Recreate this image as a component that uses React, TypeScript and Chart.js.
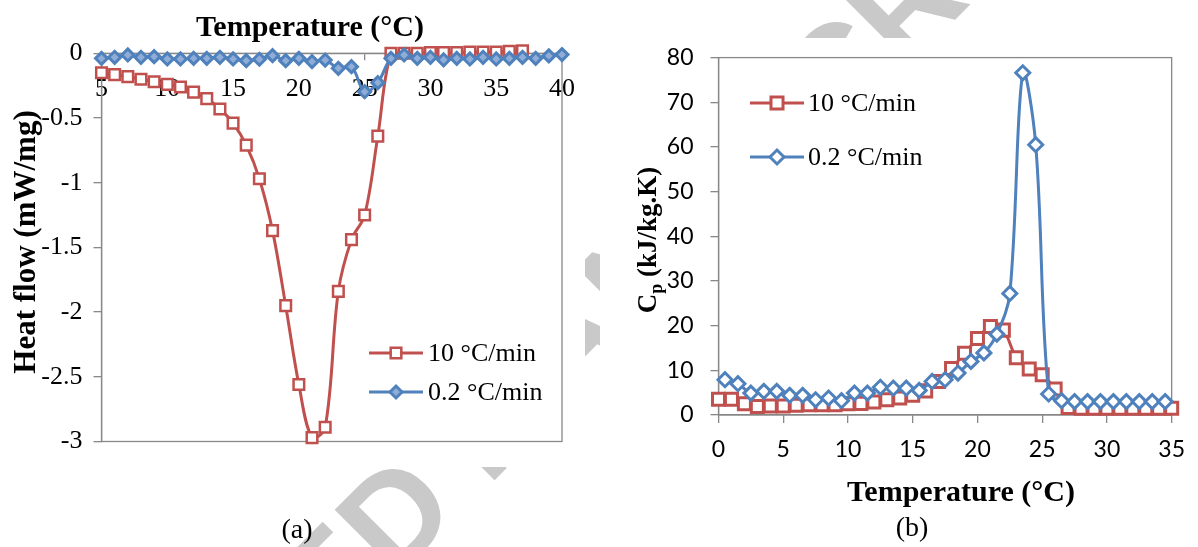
import React, { useEffect, useRef } from 'react';
import { Chart, registerables } from 'chart.js';

Chart.register(...registerables);

// ---------- data: panel (a) heat flow ----------
const heatTemps10 = [5, 6, 7, 8, 9, 10, 11, 12, 13, 14, 15, 16, 17, 18, 19, 20, 21, 22, 23, 24, 25, 26, 27, 28, 29, 30, 31, 32, 33, 34, 35, 36, 37];
const heatFlow10 = [-0.15, -0.165, -0.18, -0.2, -0.22, -0.24, -0.26, -0.3, -0.35, -0.43, -0.54, -0.71, -0.97, -1.37, -1.95, -2.56, -2.97, -2.89, -1.84, -1.44, -1.25, -0.64, 0.0, 0.0, 0.0, 0.005, 0.005, 0.005, 0.01, 0.01, 0.01, 0.015, 0.02];
const heatTemps02 = [5, 6, 7, 8, 9, 10, 11, 12, 13, 14, 15, 16, 17, 18, 19, 20, 21, 22, 23, 24, 25, 26, 27, 28, 29, 30, 31, 32, 33, 34, 35, 36, 37, 38, 39, 40];
const heatFlow02 = [-0.039, -0.031, -0.013, -0.031, -0.026, -0.044, -0.044, -0.039, -0.039, -0.031, -0.044, -0.057, -0.046, -0.018, -0.057, -0.039, -0.064, -0.052, -0.116, -0.103, -0.297, -0.227, -0.039, -0.013, -0.039, -0.031, -0.05, -0.039, -0.044, -0.031, -0.044, -0.039, -0.031, -0.039, -0.02, -0.01];
const heatXTicks = [5, 10, 15, 20, 25, 30, 35, 40];
const heatYTicks = [0, -0.5, -1, -1.5, -2, -2.5, -3];

// ---------- data: panel (b) specific heat ----------
const cpTemps10 = [0, 1, 2, 3, 4, 5, 6, 7, 8, 9, 10, 11, 12, 13, 14, 15, 16, 17, 18, 19, 20, 21, 22, 23, 24, 25, 26, 27, 28, 29, 30, 31, 32, 33, 34, 35];
const cp10 = [3.5, 3.5, 2.5, 1.9, 2.0, 2.0, 2.2, 2.3, 2.3, 2.3, 2.5, 2.6, 2.9, 3.4, 3.8, 4.4, 5.4, 7.5, 10.4, 13.8, 17.1, 19.8, 19.0, 12.8, 10.3, 9.0, 5.8, 1.7, 1.5, 1.5, 1.5, 1.5, 1.5, 1.5, 1.5, 1.5];
const cpTemps02 = [0.5, 1.5, 2.5, 3.5, 4.5, 5.5, 6.5, 7.5, 8.5, 9.5, 10.5, 11.5, 12.5, 13.5, 14.5, 15.5, 16.5, 17.5, 18.5, 19.5, 20.5, 21.5, 22.5, 23.5, 24.5, 25.5, 26.5, 27.5, 28.5, 29.5, 30.5, 31.5, 32.5, 33.5, 34.5];
const cp02 = [7.9, 7.0, 4.9, 5.3, 5.3, 4.4, 4.4, 3.4, 3.8, 3.2, 4.9, 4.9, 6.2, 6.0, 6.0, 5.5, 7.5, 7.9, 9.4, 12.0, 13.9, 18.1, 27.2, 76.6, 60.5, 4.7, 3.2, 3.0, 3.0, 3.0, 3.0, 3.0, 3.0, 3.0, 3.0];
const cpXTicks = [0, 5, 10, 15, 20, 25, 30, 35];
const cpYTicks = [0, 10, 20, 30, 40, 50, 60, 70, 80];

const seriesLabels = ['10 °C/min', '0.2 °C/min'];
const panelCaptions = ['(a)', '(b)'];
const heatTitles = ['Temperature (°C)', 'Heat flow (mW/mg)'];
const cpTitles = ['Temperature (°C)', 'C', 'p', ' (kJ/kg.K)'];
const watermarkText = 'ACCEPTED MANUSCRIPT';
const watermarkLead = 'ACCEPTE';

// ---------- styles ----------
const RED = '#C0504D';
const BLUE = '#4F81BD';
const GRAY = '#888888';
const WM_GRAY = '#c9c9c9';
const SERIF = "'Liberation Serif', 'Times New Roman', Times, serif";
const SANS = "Lato, 'Liberation Sans', Arial, sans-serif";
const WM_FONT = "bold 134px 'Liberation Sans', Arial, sans-serif";

const W = 1198;
const H = 547;
const WA = 600;
const WB = W - WA;

function drawMarker(ctx: CanvasRenderingContext2D, style: string, x: number, y: number, r: number, fill: string, stroke: string, lw: number) {
  ctx.beginPath();
  if (style === 'rect') {
    const s = Math.SQRT1_2 * r;
    ctx.rect(x - s, y - s, 2 * s, 2 * s);
  } else {
    ctx.moveTo(x - r, y);
    ctx.lineTo(x, y - r);
    ctx.lineTo(x + r, y);
    ctx.lineTo(x, y + r);
    ctx.closePath();
  }
  ctx.fillStyle = fill;
  ctx.fill();
  ctx.lineWidth = lw;
  ctx.strokeStyle = stroke;
  ctx.stroke();
}

function drawLegend(chart: any, lineX0: number, lineX1: number, textX: number, rows: number[]) {
  const ctx: CanvasRenderingContext2D = chart.ctx;
  const ds = chart.data.datasets;
  ctx.save();
  [0, 1].forEach((i, k) => {
    const d = ds[i];
    const y = rows[k];
    ctx.beginPath();
    ctx.moveTo(lineX0, y);
    ctx.lineTo(lineX1, y);
    ctx.strokeStyle = d.borderColor;
    ctx.lineWidth = d.borderWidth;
    ctx.stroke();
    drawMarker(ctx, d.pointStyle, (lineX0 + lineX1) / 2, y, d.pointRadius, d.pointBackgroundColor, d.pointBorderColor, d.pointBorderWidth);
    ctx.fillStyle = '#000';
    ctx.font = `26px ${SERIF}`;
    ctx.textAlign = 'left';
    ctx.textBaseline = 'middle';
    ctx.fillText(d.label, textX, y + 1);
  });
  ctx.restore();
}

const boxPlugin = {
  id: 'plotBox',
  beforeDatasetsDraw(chart: any) {
    const { ctx, chartArea: a } = chart;
    ctx.save();
    ctx.strokeStyle = GRAY;
    ctx.lineWidth = 1.3;
    ctx.strokeRect(a.left, a.top, a.right - a.left, a.bottom - a.top);
    ctx.restore();
  },
};

const decorA = {
  id: 'decorA',
  afterDraw(chart: any) {
    const ctx: CanvasRenderingContext2D = chart.ctx;
    drawLegend(chart, 369, 423, 428, [353, 392]);
    ctx.save();
    ctx.fillStyle = '#000';
    ctx.font = `bold 30px ${SERIF}`;
    ctx.textAlign = 'center';
    ctx.textBaseline = 'alphabetic';
    ctx.fillText(heatTitles[0], 310, 36);
    ctx.save();
    ctx.translate(27, 242);
    ctx.rotate(-Math.PI / 2);
    ctx.font = `bold 31px ${SERIF}`;
    ctx.textBaseline = 'middle';
    ctx.fillText(heatTitles[1], 0, 0);
    ctx.restore();
    ctx.font = `28px ${SERIF}`;
    ctx.textBaseline = 'middle';
    ctx.fillText(panelCaptions[0], 297, 531);
    ctx.restore();
  },
};

const decorB = {
  id: 'decorB',
  afterDraw(chart: any) {
    const ctx: CanvasRenderingContext2D = chart.ctx;
    drawLegend(chart, 150, 204, 208, [103, 157]);
    ctx.save();
    ctx.fillStyle = '#000';
    ctx.font = `bold 30px ${SERIF}`;
    ctx.textAlign = 'center';
    ctx.textBaseline = 'alphabetic';
    ctx.fillText(cpTitles[0], 361, 501);
    // rotated y title with subscript
    ctx.save();
    ctx.translate(56, 240);
    ctx.rotate(-Math.PI / 2);
    ctx.textAlign = 'left';
    const big = `bold 27px ${SERIF}`;
    const small = `bold 18px ${SERIF}`;
    ctx.font = big;
    const wC = ctx.measureText(cpTitles[1]).width;
    const wRest = ctx.measureText(cpTitles[3]).width;
    ctx.font = small;
    const wp = ctx.measureText(cpTitles[2]).width;
    const x0 = -(wC + wp + wRest) / 2;
    ctx.font = big;
    ctx.fillText(cpTitles[1], x0, 0);
    ctx.font = small;
    ctx.fillText(cpTitles[2], x0 + wC, 6);
    ctx.font = big;
    ctx.fillText(cpTitles[3], x0 + wC + wp, 0);
    ctx.restore();
    ctx.font = `28px ${SERIF}`;
    ctx.textAlign = 'center';
    ctx.textBaseline = 'middle';
    ctx.fillText(panelCaptions[1], 312, 529);
    ctx.restore();
  },
};

function toPoints(xs: number[], ys: number[]) {
  return xs.map((x, i) => ({ x, y: ys[i] }));
}

function fmtTick(v: any) {
  return String(Math.round(Number(v) * 100) / 100);
}

function drawWatermark(canvas: HTMLCanvasElement) {
  const ctx = canvas.getContext('2d');
  if (!ctx) return;
  ctx.clearRect(0, 0, W, H);
  ctx.fillStyle = '#ffffff';
  ctx.fillRect(0, 0, W, H);
  ctx.save();
  ctx.translate(393.5, 581.3);
  ctx.rotate(-Math.PI / 4);
  ctx.font = WM_FONT;
  ctx.fillStyle = WM_GRAY;
  ctx.textAlign = 'left';
  ctx.textBaseline = 'alphabetic';
  const lead = ctx.measureText(watermarkLead).width;
  ctx.fillText(watermarkText, -lead, 0);
  ctx.restore();
  // opaque chart images cover the watermark
  ctx.fillStyle = '#ffffff';
  ctx.fillRect(0, 0, 585, 467);
  ctx.fillRect(600, 38, 598, 434);
}

function App() {
  const refBg = useRef<HTMLCanvasElement>(null);
  const refA = useRef<HTMLCanvasElement>(null);
  const refB = useRef<HTMLCanvasElement>(null);

  useEffect(() => {
    if (refBg.current) drawWatermark(refBg.current);
    const tickFontA = { family: SERIF, size: 26 };
    const tickFontB = { family: SANS, size: 23 };

    const chartA = new Chart(refA.current as HTMLCanvasElement, {
      type: 'line',
      data: {
        datasets: [
          {
            label: seriesLabels[0],
            data: toPoints(heatTemps10, heatFlow10),
            borderColor: RED,
            backgroundColor: RED,
            borderWidth: 3,
            pointStyle: 'rect',
            pointRadius: 7.5,
            pointBorderWidth: 2.5,
            pointBackgroundColor: '#ffffff',
            pointBorderColor: RED,
            tension: 0.35,
            clip: false,
            order: 1,
          } as any,
          {
            label: seriesLabels[1],
            data: toPoints(heatTemps02, heatFlow02),
            borderColor: BLUE,
            backgroundColor: BLUE,
            borderWidth: 3,
            pointStyle: 'rectRot',
            pointRadius: 6,
            pointBorderWidth: 3,
            pointBackgroundColor: '#8fadd6',
            pointBorderColor: BLUE,
            tension: 0.35,
            clip: false,
            order: 0,
          } as any,
        ],
      },
      options: {
        animation: false,
        responsive: false,
        events: [],
        layout: { padding: { top: 53.3, right: 38, bottom: 105.5, left: 0 } },
        plugins: { legend: { display: false }, tooltip: { enabled: false }, title: { display: false } },
        scales: {
          x: {
            type: 'linear',
            position: { y: 0 } as any,
            min: heatXTicks[0],
            max: heatXTicks[heatXTicks.length - 1],
            afterBuildTicks: (s: any) => { s.ticks = heatXTicks.map((v) => ({ value: v })); },
            ticks: { font: tickFontA, color: '#000', padding: 14, maxRotation: 0, autoSkip: false, callback: fmtTick },
            grid: { drawOnChartArea: false, tickLength: 6, color: GRAY, lineWidth: 1.3 },
            border: { color: GRAY, width: 1.3 },
          },
          y: {
            type: 'linear',
            position: 'left',
            min: heatYTicks[heatYTicks.length - 1],
            max: heatYTicks[0],
            afterBuildTicks: (s: any) => { s.ticks = heatYTicks.map((v) => ({ value: v })); },
            afterFit: (s: any) => { s.width = 101.5; },
            ticks: { font: tickFontA, color: '#000', padding: 11, callback: fmtTick },
            grid: { drawOnChartArea: false, tickLength: 8, color: GRAY, lineWidth: 1.3 },
            border: { color: GRAY, width: 1.3 },
          },
        },
      } as any,
      plugins: [boxPlugin, decorA],
    });

    const chartB = new Chart(refB.current as HTMLCanvasElement, {
      type: 'line',
      data: {
        datasets: [
          {
            label: seriesLabels[0],
            data: toPoints(cpTemps10, cp10),
            borderColor: RED,
            backgroundColor: RED,
            borderWidth: 3,
            pointStyle: 'rect',
            pointRadius: 8.5,
            pointBorderWidth: 3,
            pointBackgroundColor: '#ffffff',
            pointBorderColor: RED,
            tension: 0.35,
            clip: false,
            order: 1,
          } as any,
          {
            label: seriesLabels[1],
            data: toPoints(cpTemps02, cp02),
            borderColor: BLUE,
            backgroundColor: BLUE,
            borderWidth: 3,
            pointStyle: 'rectRot',
            pointRadius: 7,
            pointBorderWidth: 3,
            pointBackgroundColor: '#ffffff',
            pointBorderColor: BLUE,
            tension: 0.35,
            clip: false,
            order: 0,
          } as any,
        ],
      },
      options: {
        animation: false,
        responsive: false,
        events: [],
        layout: { padding: { top: 57.6, right: 22, bottom: 0, left: 0 } },
        plugins: { legend: { display: false }, tooltip: { enabled: false }, title: { display: false } },
        scales: {
          x: {
            type: 'linear',
            position: 'bottom',
            min: cpXTicks[0],
            max: cpXTicks[cpXTicks.length - 1],
            afterBuildTicks: (s: any) => { s.ticks = cpXTicks.map((v) => ({ value: v })); },
            afterFit: (s: any) => { s.height = H - 415; },
            ticks: { font: tickFontB, color: '#000', padding: 13, maxRotation: 0, autoSkip: false, callback: fmtTick },
            grid: { drawOnChartArea: false, tickLength: 8, color: GRAY, lineWidth: 1.3 },
            border: { color: GRAY, width: 1.3 },
          },
          y: {
            type: 'linear',
            position: 'left',
            min: cpYTicks[0],
            max: cpYTicks[cpYTicks.length - 1],
            afterBuildTicks: (s: any) => { s.ticks = cpYTicks.map((v) => ({ value: v })); },
            afterFit: (s: any) => { s.width = 118.5; },
            ticks: { font: tickFontB, color: '#000', padding: 17, callback: fmtTick },
            grid: { drawOnChartArea: false, tickLength: 8, color: GRAY, lineWidth: 1.3 },
            border: { color: GRAY, width: 1.3 },
          },
        },
      } as any,
      plugins: [boxPlugin, decorB],
    });

    return () => {
      chartA.destroy();
      chartB.destroy();
    };
  }, []);

  return (
    <div style={{ position: 'fixed', left: 0, top: 0, width: W, height: H, background: '#fff', overflow: 'hidden' }}>
      <canvas ref={refBg} width={W} height={H} style={{ position: 'absolute', left: 0, top: 0, width: W, height: H }} />
      <canvas ref={refA} width={WA} height={H} style={{ position: 'absolute', left: 0, top: 0, width: WA, height: H }} />
      <canvas ref={refB} width={WB} height={H} style={{ position: 'absolute', left: WA, top: 0, width: WB, height: H }} />
    </div>
  );
}

export default App;
